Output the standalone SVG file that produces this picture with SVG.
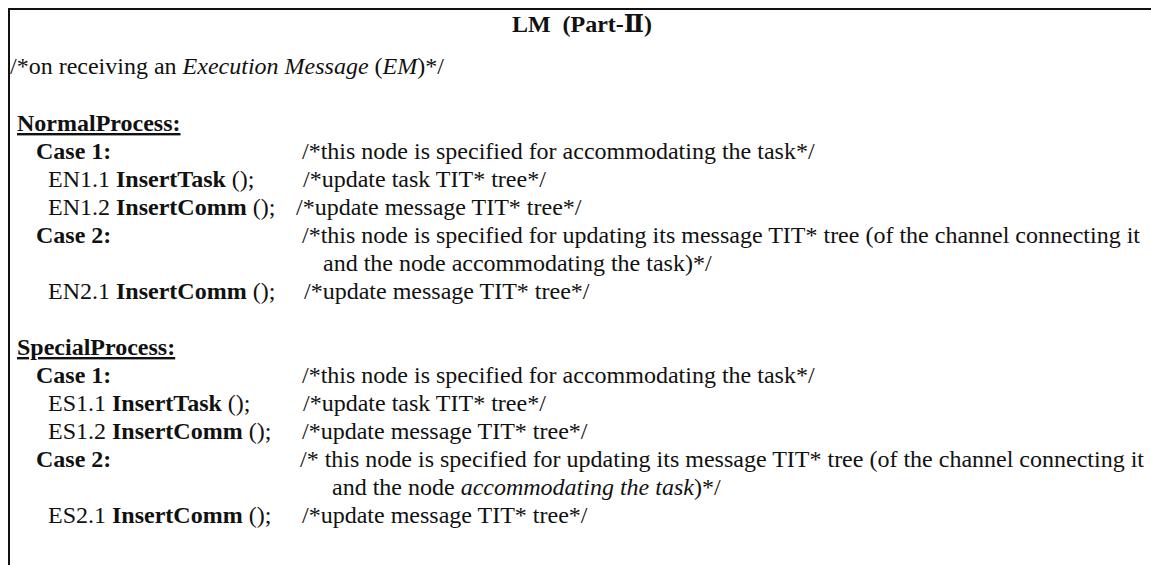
<svg xmlns="http://www.w3.org/2000/svg" width="1151" height="565" viewBox="0 0 1151 565">
  <style>
    text { font-family: "Liberation Serif", "DejaVu Serif", "Times New Roman", serif; font-size: 24px; fill: #111; }
    .b { font-weight: bold; }
    .i { font-style: italic; }
    .u { text-decoration: underline; }
    .frame { stroke: #111; stroke-width: 2; fill: none; }
  </style>

  <!-- frame: top rule and left rule -->
  <g id="frame">
    <line class="frame" x1="8" y1="9" x2="1151" y2="9"/>
    <line class="frame" x1="9" y1="8" x2="9" y2="565"/>
  </g>

  <g id="title">
    <text class="b" x="582" y="32" text-anchor="middle" xml:space="preserve">LM  (Part-Ⅱ)</text>
  </g>

  <g id="header">
    <text x="10" y="74">/*on receiving an <tspan class="i">Execution Message</tspan> (<tspan class="i">EM</tspan>)*/</text>
  </g>

  <!-- normal process -->
  <g id="normal-process">
    <text class="b u" x="17" y="131">NormalProcess:</text>
    <text class="b" x="36" y="159">Case 1:</text>
    <text x="302" y="159">/*this node is specified for accommodating the task*/</text>
    <text x="48" y="187">EN1.1 <tspan class="b">InsertTask</tspan> ();</text>
    <text x="303" y="187">/*update task TIT* tree*/</text>
    <text x="48" y="215">EN1.2 <tspan class="b">InsertComm</tspan> ();</text>
    <text x="296" y="215">/*update message TIT* tree*/</text>
    <text class="b" x="36" y="243">Case 2:</text>
    <text x="302" y="243">/*this node is specified for updating its message TIT* tree (of the channel connecting it</text>
    <text x="323" y="271">and the node accommodating the task)*/</text>
    <text x="48" y="299">EN2.1 <tspan class="b">InsertComm</tspan> ();</text>
    <text x="304" y="299">/*update message TIT* tree*/</text>
  </g>

  <!-- special process -->
  <g id="special-process">
    <text class="b u" x="17" y="355">SpecialProcess:</text>
    <text class="b" x="36" y="383">Case 1:</text>
    <text x="302" y="383">/*this node is specified for accommodating the task*/</text>
    <text x="48" y="411">ES1.1 <tspan class="b">InsertTask</tspan> ();</text>
    <text x="303" y="411">/*update task TIT* tree*/</text>
    <text x="48" y="439">ES1.2 <tspan class="b">InsertComm</tspan> ();</text>
    <text x="302" y="439">/*update message TIT* tree*/</text>
    <text class="b" x="36" y="467">Case 2:</text>
    <text x="300" y="467">/* this node is specified for updating its message TIT* tree (of the channel connecting it</text>
    <text x="332" y="495">and the node <tspan class="i">accommodating the task</tspan>)*/</text>
    <text x="48" y="523">ES2.1 <tspan class="b">InsertComm</tspan> ();</text>
    <text x="302" y="523">/*update message TIT* tree*/</text>
  </g>
</svg>
